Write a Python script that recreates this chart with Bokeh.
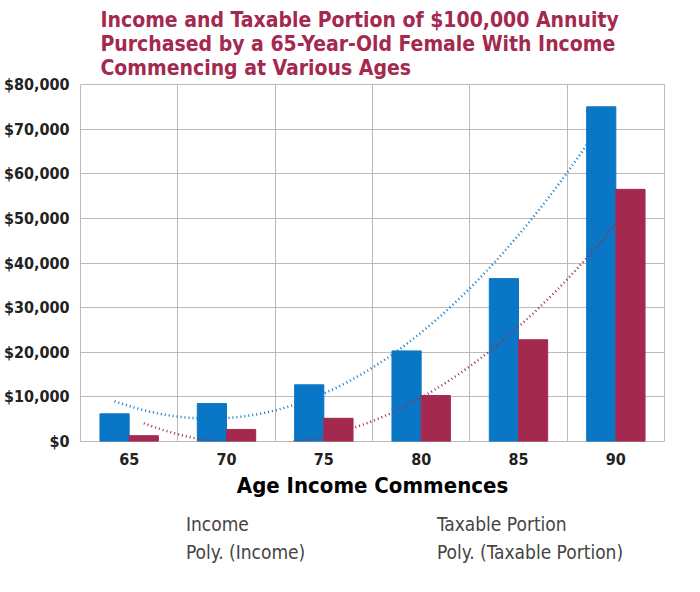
import numpy as np
from bokeh.plotting import figure
from bokeh.layouts import column
from bokeh.models import FixedTicker, NumeralTickFormatter, Legend, LegendItem, Range1d
from bokeh.embed import file_html
from bokeh.resources import INLINE

ages = [65, 70, 75, 80, 85, 90]
income = [6200, 8500, 12700, 20300, 36500, 75000]
taxable = [1300, 2700, 5200, 10300, 22800, 56500]

FONT = "DejaVu Sans Condensed"
BLUE = "#0A77C6"
RED = "#A3294F"
p = figure(width=684, height=500, output_backend="svg", toolbar_location=None,
           x_range=Range1d(0, 6), y_range=Range1d(0, 80000),
           title="Income and Taxable Portion of $100,000 Annuity\nPurchased by a 65-Year-Old Female With Income\nCommencing at Various Ages")
p.title.text_color = RED
p.title.text_font = FONT
p.title.text_font_size = "21px"
p.title.text_font_style = "bold"
p.title.offset = 20
p.min_border_left = 20
p.min_border_right = 20
p.min_border_top = 15
p.outline_line_color = "#BBBBBB"

idx = np.arange(len(ages))
p.vbar(x=idx + 0.5 - 0.15, top=income, width=0.3, color=BLUE)
p.vbar(x=idx + 0.5 + 0.15, top=taxable, width=0.3, color=RED)

# order-2 polynomial trendlines (as in Excel "Poly.")
xs = np.linspace(0, 5, 100)
ci = np.polyfit(idx, income, 2)
ct = np.polyfit(idx, taxable, 2)
p.line(xs + 0.5 - 0.15, np.polyval(ci, xs), color=BLUE, line_width=2.5, line_dash="1 3")
p.line(xs + 0.5 + 0.15, np.polyval(ct, xs), color=RED, line_width=2.5, line_dash="1 3")

p.xaxis.ticker = FixedTicker(ticks=list(idx + 0.5))
p.xaxis.major_label_overrides = {float(i + 0.5): str(a) for i, a in enumerate(ages)}
p.xgrid.ticker = FixedTicker(ticks=list(range(7)))
p.yaxis.ticker = FixedTicker(ticks=list(range(0, 80001, 10000)))
p.yaxis.formatter = NumeralTickFormatter(format="$0,0")
for ax in (p.xaxis, p.yaxis):
    ax.major_label_text_font = FONT
    ax.major_label_text_font_style = "bold"
    ax.major_label_text_font_size = "16px"
    ax.major_label_text_color = "#222222"
    ax.axis_line_color = None
    ax.major_tick_line_color = None
    ax.minor_tick_line_color = None
p.xgrid.grid_line_color = "#BBBBBB"
p.ygrid.grid_line_color = "#BBBBBB"
p.xaxis.axis_label = "Age Income Commences"
p.xaxis.axis_label_text_font = FONT
p.xaxis.axis_label_text_font_style = "bold"
p.xaxis.axis_label_text_font_size = "22px"
p.xaxis.axis_label_text_color = "black"

# legend in its own small figure
lf = figure(width=684, height=76, output_backend="svg", toolbar_location=None,
            x_range=Range1d(0, 1), y_range=Range1d(0, 1))
lf.axis.visible = False
lf.grid.visible = False
lf.outline_line_color = None
lf.min_border = 0
ri = lf.vbar(x=[], top=[], width=0.3, color=BLUE)
rt = lf.vbar(x=[], top=[], width=0.3, color=RED)
li = lf.line(x=[], y=[], color=BLUE, line_width=3, line_dash="1 3")
lt = lf.line(x=[], y=[], color=RED, line_width=3, line_dash="1 3")
legend = Legend(items=[LegendItem(label="Income", renderers=[ri]),
                       LegendItem(label="Poly. (Income)", renderers=[li]),
                       LegendItem(label="Taxable Portion", renderers=[rt]),
                       LegendItem(label="Poly. (Taxable Portion)", renderers=[lt])],
                ncols=2, location="center", border_line_color=None,
                background_fill_alpha=0,
                label_text_font=FONT, label_text_font_size="19px",
                glyph_width=60, glyph_height=16, spacing=6, label_width=180)
lf.add_layout(legend, "center")

open("out.html", "w").write(file_html(column(p, lf, spacing=0), INLINE))
